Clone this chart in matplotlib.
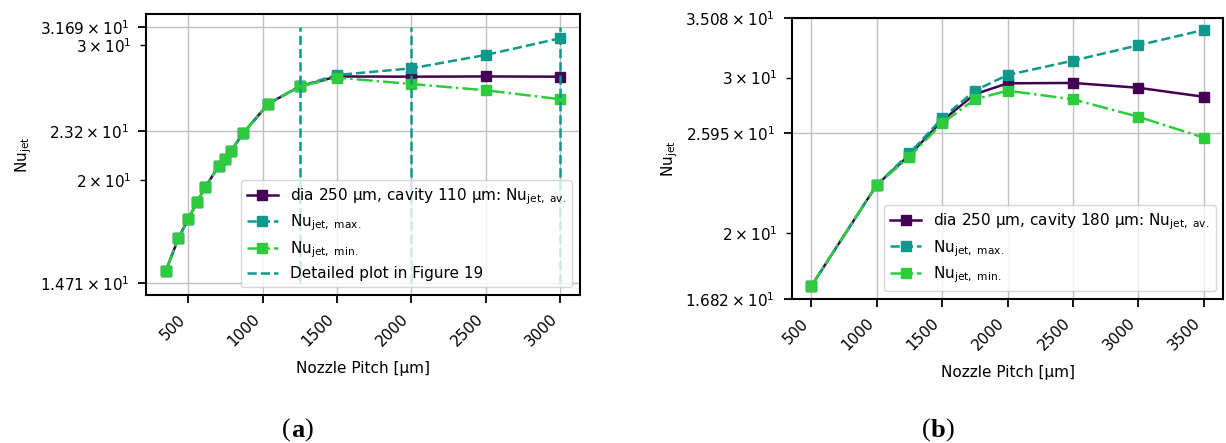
import matplotlib
matplotlib.use('Agg')
import matplotlib.pyplot as plt

# (a) dia 250 um, cavity 110 um
pitch_a = [350, 435, 500, 560, 615, 705, 750, 790, 870, 1040, 1250, 1500, 2000, 2500, 3000]
nu_av_a = [15.24, 16.80, 17.80, 18.73, 19.58, 20.87, 21.31, 21.85, 23.04, 25.16, 26.50,
           27.30, 27.28, 27.30, 27.28]
nu_max_a = [15.24, 16.80, 17.80, 18.73, 19.58, 20.87, 21.31, 21.85, 23.04, 25.16, 26.50,
            27.42, 27.97, 29.12, 30.61]
nu_min_a = [15.24, 16.80, 17.80, 18.73, 19.58, 20.87, 21.31, 21.85, 23.04, 25.16, 26.50,
            27.20, 26.69, 26.19, 25.50]
detail_a = [1250, 2000, 3000]
yticks_a = [14.71, 23.20, 31.69]
ylim_a = (14.18, 32.92)

# (b) dia 250 um, cavity 180 um
pitch_b = [500, 1000, 1250, 1500, 1750, 2000, 2500, 3000, 3500]
nu_av_b = [17.40, 22.66, 24.50, 26.80, 28.72, 29.55, 29.58, 29.21, 28.53]
nu_max_b = [17.40, 22.66, 24.61, 26.97, 28.99, 30.20, 31.35, 32.64, 33.97]
nu_min_b = [17.40, 22.66, 24.39, 26.62, 28.34, 28.99, 28.34, 27.08, 25.64]
yticks_b = [16.82, 25.95, 35.08]
ylim_b = (16.82, 35.08)

xticks_a = [500, 1000, 1500, 2000, 2500, 3000]
xticks_b = [500, 1000, 1500, 2000, 2500, 3000, 3500]

C_AV = '#440154'
C_MAX = '#0f998a'
C_MIN = '#2ccc3c'

plt.rcParams['font.size'] = 11

fig = plt.figure(figsize=(12.26, 4.43), dpi=100)
ax1 = fig.add_axes([0.1191, 0.3341, 0.3540, 0.6343])
ax2 = fig.add_axes([0.6458, 0.3251, 0.3520, 0.6350])


def draw(ax, x, av, mx, mn, cavity):
    ax.plot(x, av, '-', marker='s', color=C_AV, lw=1.8, ms=6.5,
            label='dia 250 µm, cavity %d µm: Nu$_{\\mathrm{jet,\\ av.}}$' % cavity)
    ax.plot(x, mx, '--', marker='s', color=C_MAX, lw=1.8, ms=6.5,
            label='Nu$_{\\mathrm{jet,\\ max.}}$')
    ax.plot(x, mn, '-.', marker='s', color=C_MIN, lw=1.8, ms=6.5,
            label='Nu$_{\\mathrm{jet,\\ min.}}$')
    ax.set_yscale('log')


draw(ax1, pitch_a, nu_av_a, nu_max_a, nu_min_a, 110)
ax1.vlines(detail_a, yticks_a[0], yticks_a[-1], colors=C_MAX, linestyles='--', lw=1.8,
           label='Detailed plot in Figure 19')
ax1.set_ylim(*ylim_a)
ax1.set_yticks(yticks_a)

draw(ax2, pitch_b, nu_av_b, nu_max_b, nu_min_b, 180)
ax2.set_ylim(*ylim_b)
ax2.set_yticks(yticks_b)

for ax, xt in [(ax1, xticks_a), (ax2, xticks_b)]:
    ax.set_xticks(xt)
    plt.setp(ax.get_xticklabels(), rotation=45, ha='right')
    ax.grid(True, which='major', color='#c0c0c0', lw=1)
    ax.set_xlabel('Nozzle Pitch [µm]', labelpad=8)
    ax.set_ylabel('Nu$_{\\mathrm{jet}}$')
    for s in ax.spines.values():
        s.set_linewidth(1.5)
    ax.tick_params(which='major', width=1.3, length=6, pad=6)
    ax.tick_params(which='minor', width=1.0, length=4, pad=6)
    ax.legend(loc='lower right', labelspacing=0.4)


def panel_label(x, letter):
    t1 = fig.text(x, 0.029, '(', family='Liberation Serif', fontsize=19, va='center')
    t2 = fig.add_artist(plt.Annotation(letter, xy=(1, 0.5), xycoords=t1, va='center',
                                       ha='left', family='Liberation Serif', fontsize=19,
                                       weight='bold'))
    fig.add_artist(plt.Annotation(')', xy=(1, 0.5), xycoords=t2, va='center', ha='left',
                                  family='Liberation Serif', fontsize=19))


panel_label(0.230, 'a')
panel_label(0.752, 'b')

fig.savefig('out.png', dpi=100)
